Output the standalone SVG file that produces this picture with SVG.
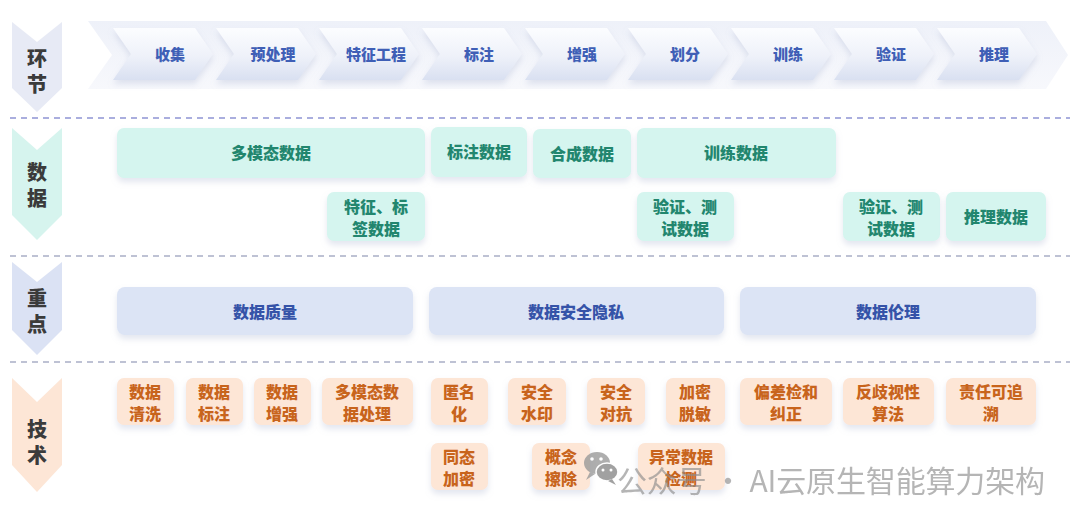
<svg xmlns="http://www.w3.org/2000/svg" width="1080" height="514" viewBox="0 0 1080 514">
<defs>
  <linearGradient id="chev" x1="0" y1="0" x2="0" y2="1">
    <stop offset="0" stop-color="#fcfdff"/>
    <stop offset="0.55" stop-color="#eef1f9"/>
    <stop offset="1" stop-color="#d9e0f1"/>
  </linearGradient>
  <linearGradient id="band" x1="0" y1="0" x2="0" y2="1">
    <stop offset="0" stop-color="#eef1f9"/>
    <stop offset="1" stop-color="#f7f8fc"/>
  </linearGradient>
  <filter id="sh" x="-10%" y="-20%" width="120%" height="160%">
    <feDropShadow dx="0" dy="4" stdDeviation="3" flood-color="#9aa6c8" flood-opacity="0.28"/>
  </filter>
  <path id="chevShape" d="M0,0 H82 L100,26 L82,52 H0 L18,26 Z"/>
</defs>
<style>
  text { font-family: "Noto Sans CJK SC", "Noto Sans", sans-serif; font-weight: 900; text-anchor: middle; dominant-baseline: central; }
  .lab { font-size: 20px; fill: #3b3b3b; writing-mode: vertical-rl; letter-spacing: 6px; }
  .stage { font-size: 15px; fill: #3f5fb6; }
  .teal rect { fill: #d5f5ef; filter: url(#sh); }
  .teal text { font-size: 16px; fill: #22866e; }
  .blue rect { fill: #dce4f5; filter: url(#sh); }
  .blue text { font-size: 16px; fill: #3553a8; }
  .org rect { fill: #fde6d6; filter: url(#sh); }
  .org text { font-size: 16px; fill: #c8641c; }
  .dash { stroke-width: 1.5; stroke-dasharray: 6 5; fill: none; }
  .wm { font-family: "Noto Sans CJK SC", "Noto Sans", sans-serif; font-weight: 400; font-size: 30px; fill: #8c8c8c; fill-opacity: 0.8; text-anchor: start; }
</style>
<rect width="1080" height="514" fill="#ffffff"/>

<!-- row labels -->
<g id="label-huanjie">
  <path d="M12,22 L37,42 L62,22 V88 L37,112 L12,88 Z" fill="#e7eaf5"/>
  <text class="lab" x="37" y="74">环节</text>
</g>
<g id="label-shuju">
  <path d="M12,128 L37,150 L62,128 V215 L37,240 L12,215 Z" fill="#d6f4ee"/>
  <text class="lab" x="37" y="188">数据</text>
</g>
<g id="label-zhongdian">
  <path d="M12,262 L37,282 L62,262 V330 L37,355 L12,330 Z" fill="#dbe2f4"/>
  <text class="lab" x="37" y="314">重点</text>
</g>
<g id="label-jishu">
  <path d="M12,378 L37,402 L62,378 V465 L37,492 L12,465 Z" fill="#fde6d6"/>
  <text class="lab" x="37" y="445">技术</text>
</g>

<!-- separators -->
<g id="connectors">
  <line class="dash" x1="10" y1="118" x2="1070" y2="118" stroke="#8e94d4"/>
  <line class="dash" x1="10" y1="256" x2="1070" y2="256" stroke="#a9afc6"/>
  <line class="dash" x1="10" y1="362" x2="1070" y2="362" stroke="#a9afc6"/>
</g>

<!-- stage band -->
<g id="stages">
  <path d="M88,21 H1046 L1068,55 L1046,89 H88 L112,55 Z" fill="url(#band)"/>
  <g filter="url(#sh)">
    <use href="#chevShape" x="113" y="28" fill="url(#chev)"/>
    <use href="#chevShape" x="216" y="28" fill="url(#chev)"/>
    <use href="#chevShape" x="319" y="28" fill="url(#chev)"/>
    <use href="#chevShape" x="422" y="28" fill="url(#chev)"/>
    <use href="#chevShape" x="525" y="28" fill="url(#chev)"/>
    <use href="#chevShape" x="628" y="28" fill="url(#chev)"/>
    <use href="#chevShape" x="731" y="28" fill="url(#chev)"/>
    <use href="#chevShape" x="834" y="28" fill="url(#chev)"/>
    <use href="#chevShape" x="937" y="28" fill="url(#chev)"/>
  </g>
  <g id="stage-1"><text class="stage" x="170" y="53">收集</text></g>
  <g id="stage-2"><text class="stage" x="273" y="53">预处理</text></g>
  <g id="stage-3"><text class="stage" x="376" y="53">特征工程</text></g>
  <g id="stage-4"><text class="stage" x="479" y="53">标注</text></g>
  <g id="stage-5"><text class="stage" x="582" y="53">增强</text></g>
  <g id="stage-6"><text class="stage" x="685" y="53">划分</text></g>
  <g id="stage-7"><text class="stage" x="788" y="53">训练</text></g>
  <g id="stage-8"><text class="stage" x="891" y="53">验证</text></g>
  <g id="stage-9"><text class="stage" x="994" y="53">推理</text></g>
</g>

<!-- data row -->
<g class="teal">
  <g id="d-multimodal"><rect x="117" y="128" width="308" height="50" rx="7"/><text x="271" y="152">多模态数据</text></g>
  <g id="d-label"><rect x="431" y="127" width="96" height="50" rx="7"/><text x="479" y="151">标注数据</text></g>
  <g id="d-synth"><rect x="533" y="129" width="98" height="49" rx="7"/><text x="582" y="153">合成数据</text></g>
  <g id="d-train"><rect x="637" y="128" width="199" height="50" rx="7"/><text x="736" y="152">训练数据</text></g>
  <g id="d-feat"><rect x="327" y="192" width="98" height="49" rx="7"/><text><tspan x="376" y="206">特征、标</tspan><tspan x="376" y="228">签数据</tspan></text></g>
  <g id="d-val1"><rect x="637" y="192" width="97" height="49" rx="7"/><text><tspan x="685" y="206">验证、测</tspan><tspan x="685" y="228">试数据</tspan></text></g>
  <g id="d-val2"><rect x="843" y="192" width="97" height="49" rx="7"/><text><tspan x="891" y="206">验证、测</tspan><tspan x="891" y="228">试数据</tspan></text></g>
  <g id="d-infer"><rect x="946" y="192" width="100" height="49" rx="7"/><text x="996" y="216">推理数据</text></g>
</g>

<!-- focus row -->
<g class="blue">
  <g id="f-quality"><rect x="117" y="287" width="296" height="48" rx="8"/><text x="265" y="311">数据质量</text></g>
  <g id="f-security"><rect x="429" y="287" width="295" height="48" rx="8"/><text x="576" y="311">数据安全隐私</text></g>
  <g id="f-ethics"><rect x="740" y="287" width="296" height="48" rx="8"/><text x="888" y="311">数据伦理</text></g>
</g>

<!-- technique row -->
<g class="org">
  <g id="t-clean"><rect x="117" y="378" width="57" height="47" rx="7"/><text><tspan x="145" y="391">数据</tspan><tspan x="145" y="413">清洗</tspan></text></g>
  <g id="t-annot"><rect x="186" y="378" width="57" height="47" rx="7"/><text><tspan x="214" y="391">数据</tspan><tspan x="214" y="413">标注</tspan></text></g>
  <g id="t-aug"><rect x="254" y="378" width="57" height="47" rx="7"/><text><tspan x="282" y="391">数据</tspan><tspan x="282" y="413">增强</tspan></text></g>
  <g id="t-mm"><rect x="322" y="378" width="91" height="47" rx="7"/><text><tspan x="367" y="391">多模态数</tspan><tspan x="367" y="413">据处理</tspan></text></g>
  <g id="t-anon"><rect x="431" y="378" width="57" height="47" rx="7"/><text><tspan x="459" y="391">匿名</tspan><tspan x="459" y="413">化</tspan></text></g>
  <g id="t-wm"><rect x="508" y="378" width="58" height="47" rx="7"/><text><tspan x="537" y="391">安全</tspan><tspan x="537" y="413">水印</tspan></text></g>
  <g id="t-adv"><rect x="587" y="378" width="58" height="47" rx="7"/><text><tspan x="616" y="391">安全</tspan><tspan x="616" y="413">对抗</tspan></text></g>
  <g id="t-enc"><rect x="666" y="378" width="59" height="47" rx="7"/><text><tspan x="695" y="391">加密</tspan><tspan x="695" y="413">脱敏</tspan></text></g>
  <g id="t-bias"><rect x="740" y="378" width="92" height="47" rx="7"/><text><tspan x="786" y="391">偏差检和</tspan><tspan x="786" y="413">纠正</tspan></text></g>
  <g id="t-anti"><rect x="843" y="378" width="91" height="47" rx="7"/><text><tspan x="888" y="391">反歧视性</tspan><tspan x="888" y="413">算法</tspan></text></g>
  <g id="t-trace"><rect x="946" y="378" width="90" height="47" rx="7"/><text><tspan x="991" y="391">责任可追</tspan><tspan x="991" y="413">溯</tspan></text></g>
  <g id="t-homo"><rect x="431" y="443" width="57" height="47" rx="7"/><text><tspan x="459" y="456">同态</tspan><tspan x="459" y="478">加密</tspan></text></g>
  <g id="t-erase"><rect x="532" y="443" width="58" height="47" rx="7"/><text><tspan x="561" y="456">概念</tspan><tspan x="561" y="478">擦除</tspan></text></g>
  <g id="t-anom"><rect x="638" y="443" width="87" height="47" rx="7"/><text><tspan x="681" y="456">异常数据</tspan><tspan x="681" y="478">检测</tspan></text></g>
</g>

<!-- watermark -->
<g id="watermark" opacity="0.8">
  <ellipse cx="597" cy="463" rx="13" ry="11" fill="#9a9a9a"/>
  <path d="M590,472 L586,480 L595,474 Z" fill="#9a9a9a"/>
  <ellipse cx="607" cy="472" rx="11" ry="9" fill="#8a8a8a" stroke="#ffffff" stroke-width="1.5"/>
  <path d="M612,479 L616,485 L608,481 Z" fill="#8a8a8a"/>
  <circle cx="592" cy="459" r="1.8" fill="#fff"/>
  <circle cx="601" cy="459" r="1.8" fill="#fff"/>
  <circle cx="603" cy="470" r="1.5" fill="#fff"/>
  <circle cx="611" cy="470" r="1.5" fill="#fff"/>
  <text class="wm" x="617" y="479" textLength="428" lengthAdjust="spacing">公众号 · AI云原生智能算力架构</text>
</g>
</svg>
